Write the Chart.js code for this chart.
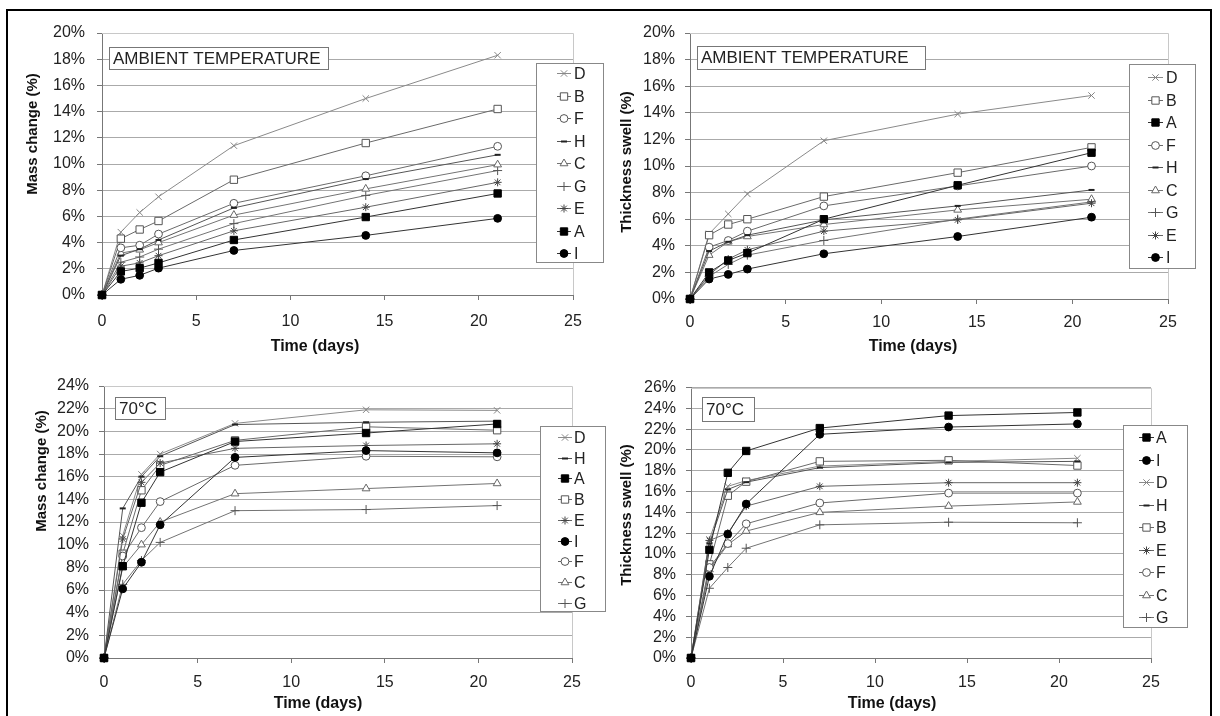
<!DOCTYPE html>
<html>
<head>
<meta charset="utf-8">
<script src="https://cdn.jsdelivr.net/npm/chart.js@4.4.1/dist/chart.umd.min.js"></script>
<style>
  body { margin: 0; background: #fff; }
  #wrap { position: relative; width: 1220px; height: 716px; overflow: hidden; background: #fff; }
  #frame { position: absolute; left: 6px; top: 9px; width: 1206px; height: 720px; border: 2px solid #000; box-sizing: border-box; }
  canvas { position: absolute; }
</style>
</head>
<body>
<div id="wrap">
  <div id="frame"></div>
  <canvas id="massAmb" width="610" height="362" style="left:0;top:0"></canvas>
  <canvas id="swellAmb" width="610" height="362" style="left:610px;top:0"></canvas>
  <canvas id="mass70" width="610" height="354" style="left:0;top:362px"></canvas>
  <canvas id="swell70" width="610" height="354" style="left:610px;top:362px"></canvas>
</div>
<script>
const days = [0, 1, 2, 3, 7, 14, 21];

// mass change (%), ambient temperature
const massAmbOrder = ['D', 'B', 'F', 'H', 'C', 'G', 'E', 'A', 'I'];
const massAmbD = [0, 4.8, 6.3, 7.5, 11.4, 15.0, 18.3];
const massAmbB = [0, 4.3, 5.0, 5.65, 8.8, 11.6, 14.2];
const massAmbF = [0, 3.6, 3.8, 4.65, 7.0, 9.1, 11.35];
const massAmbH = [0, 3.0, 3.5, 4.2, 6.65, 8.85, 10.7];
const massAmbC = [0, 3.2, 3.45, 4.0, 6.1, 8.1, 9.95];
const massAmbG = [0, 2.5, 2.9, 3.5, 5.45, 7.6, 9.5];
const massAmbE = [0, 2.2, 2.45, 3.0, 4.9, 6.7, 8.6];
const massAmbA = [0, 1.8, 2.05, 2.45, 4.2, 5.95, 7.75];
const massAmbI = [0, 1.2, 1.5, 2.05, 3.4, 4.55, 5.85];

// thickness swell (%), ambient temperature
const swellAmbOrder = ['D', 'B', 'A', 'F', 'H', 'C', 'G', 'E', 'I'];
const swellAmbD = [0, 4.9, 6.4, 7.9, 11.9, 13.9, 15.3];
const swellAmbB = [0, 4.8, 5.6, 6.0, 7.7, 9.5, 11.4];
const swellAmbA = [0, 2.0, 2.9, 3.45, 6.0, 8.55, 11.0];
const swellAmbF = [0, 3.9, 4.4, 5.1, 7.0, 8.5, 10.0];
const swellAmbH = [0, 3.6, 4.3, 4.8, 5.95, 7.0, 8.2];
const swellAmbC = [0, 3.3, 4.3, 4.7, 5.6, 6.7, 7.5];
const swellAmbG = [0, 1.7, 2.6, 3.3, 4.4, 6.0, 7.3];
const swellAmbE = [0, 1.8, 3.0, 3.7, 5.1, 5.95, 7.2];
const swellAmbI = [0, 1.5, 1.85, 2.25, 3.4, 4.7, 6.15];

// mass change (%), 70°C
const mass70Order = ['D', 'H', 'A', 'B', 'E', 'I', 'F', 'C', 'G'];
const mass70D = [0, 10.8, 16.2, 18.0, 20.7, 21.9, 21.85];
const mass70H = [0, 13.2, 16.0, 17.8, 20.6, 20.8, 20.9];
const mass70A = [0, 8.1, 13.7, 16.4, 19.1, 19.85, 20.65];
const mass70B = [0, 9.2, 14.8, 17.0, 19.2, 20.4, 20.1];
const mass70E = [0, 10.5, 15.5, 17.2, 18.5, 18.75, 18.9];
const mass70I = [0, 6.1, 8.45, 11.75, 17.7, 18.3, 18.1];
const mass70F = [0, 9.0, 11.5, 13.8, 17.0, 17.8, 17.75];
const mass70C = [0, 8.0, 10.0, 12.0, 14.5, 14.95, 15.4];
const mass70G = [0, 6.5, 8.6, 10.2, 13.0, 13.1, 13.45];

// thickness swell (%), 70°C
const swell70Order = ['A', 'I', 'D', 'H', 'B', 'E', 'F', 'C', 'G'];
const swell70A = [0, 10.4, 17.8, 19.9, 22.1, 23.3, 23.6];
const swell70I = [0, 7.85, 11.9, 14.8, 21.5, 22.2, 22.5];
const swell70D = [0, 11.4, 16.5, 17.05, 18.45, 18.9, 19.2];
const swell70H = [0, 11.0, 16.2, 16.9, 18.3, 18.8, 18.9];
const swell70B = [0, 9.0, 15.6, 16.95, 18.9, 19.0, 18.5];
const swell70E = [0, 11.3, 12.0, 14.6, 16.5, 16.85, 16.85];
const swell70F = [0, 8.7, 11.0, 12.9, 14.9, 15.85, 15.85];
const swell70C = [0, 8.5, 10.9, 12.2, 14.0, 14.6, 15.0];
const swell70G = [0, 6.7, 8.7, 10.55, 12.8, 13.05, 13.0];

const FONT = '"Liberation Sans", Arial, sans-serif';
Chart.defaults.font.family = FONT;
Chart.defaults.color = '#222';

// marker look per board type (draw: lower is on top)
const looks = {
    D: { pointStyle: 'crossRot', line: '#8a8a8a', stroke: '#858585', fill: '#858585', r: 4.5, bw: 1, draw: 5 },
    B: { pointStyle: 'rect', line: '#6a6a6a', stroke: '#555', fill: '#fff', r: 5.2, bw: 1, draw: 4 },
    F: { pointStyle: 'circle', line: '#6a6a6a', stroke: '#555', fill: '#fff', r: 3.9, bw: 1, draw: 3 },
    H: { pointStyle: 'line', line: '#555', stroke: '#222', fill: '#222', r: 3, bw: 2, draw: 2 },
    C: { pointStyle: 'triangle', line: '#737373', stroke: '#666', fill: '#fff', r: 4.5, bw: 1, draw: 3 },
    G: { pointStyle: 'cross', line: '#737373', stroke: '#555', fill: '#555', r: 4.5, bw: 1, draw: 3 },
    E: { pointStyle: 'star', line: '#666', stroke: '#444', fill: '#444', r: 4, bw: 1, draw: 2 },
    A: { pointStyle: 'rect', line: '#333', stroke: '#000', fill: '#000', r: 5.2, bw: 1, draw: 0 },
    I: { pointStyle: 'circle', line: '#333', stroke: '#000', fill: '#000', r: 3.9, bw: 1, draw: 1 }
};

function makeSet(label, values) {
    const s = looks[label];
    return {
        label: label,
        data: days.map((d, i) => ({ x: d, y: values[i] })),
        order: s.draw,
        clip: false,
        borderColor: s.line,
        borderWidth: 1,
        pointStyle: s.pointStyle,
        pointRadius: s.r,
        pointBackgroundColor: s.fill,
        pointBorderColor: s.stroke,
        pointBorderWidth: s.bw,
        tension: 0
    };
}

// plot frame, tag box, boxed legend and axis titles
const decor = {
    id: 'decor',
    beforeDatasetsDraw(chart) {
        const { ctx, chartArea: a } = chart;
        ctx.save();
        ctx.strokeStyle = '#c8c8c8';
        ctx.lineWidth = 1;
        ctx.beginPath();
        ctx.moveTo(a.left, Math.round(a.top) + 0.5);
        ctx.lineTo(Math.round(a.right) + 0.5, Math.round(a.top) + 0.5);
        ctx.lineTo(Math.round(a.right) + 0.5, a.bottom);
        ctx.stroke();
        ctx.restore();
    },
    afterDraw(chart, args, opts) {
        const ctx = chart.ctx;
        ctx.save();

        const t = opts.tag;
        ctx.fillStyle = '#fff';
        ctx.fillRect(t.x, t.y, t.w, t.h);
        ctx.strokeStyle = '#777';
        ctx.lineWidth = 1;
        ctx.strokeRect(t.x + 0.5, t.y + 0.5, t.w, t.h);
        ctx.fillStyle = '#222';
        ctx.font = '17px ' + FONT;
        ctx.textAlign = 'left';
        ctx.textBaseline = 'middle';
        ctx.fillText(t.text, t.x + 4, t.y + t.h / 2 + 1);

        const lg = opts.legend;
        ctx.fillStyle = '#fff';
        ctx.fillRect(lg.x, lg.y, lg.w, lg.h);
        ctx.strokeStyle = '#888';
        ctx.strokeRect(lg.x + 0.5, lg.y + 0.5, lg.w, lg.h);
        ctx.font = '16px ' + FONT;
        chart.data.datasets.forEach((ds, i) => {
            const y = Math.round(lg.y + lg.first + i * lg.step) + 0.5;
            const x0 = lg.x + lg.line0, x1 = lg.x + lg.line1;
            ctx.strokeStyle = ds.borderColor;
            ctx.lineWidth = 1;
            ctx.beginPath();
            ctx.moveTo(x0, y);
            ctx.lineTo(x1, y);
            ctx.stroke();
            ctx.fillStyle = ds.pointBackgroundColor;
            ctx.strokeStyle = ds.pointBorderColor;
            ctx.lineWidth = ds.pointBorderWidth;
            Chart.helpers.drawPoint(ctx, {
                pointStyle: ds.pointStyle,
                radius: ds.pointRadius,
                rotation: 0,
                borderWidth: ds.pointBorderWidth
            }, (x0 + x1) / 2, y);
            ctx.fillStyle = '#222';
            ctx.fillText(ds.label, lg.x + lg.text, y + 1);
        });

        ctx.fillStyle = '#111';
        ctx.textAlign = 'center';
        ctx.font = 'bold 16px ' + FONT;
        ctx.fillText('Time (days)', opts.xTitle.x, opts.xTitle.y);
        ctx.translate(opts.yTitle.x, opts.yTitle.y);
        ctx.rotate(-Math.PI / 2);
        ctx.font = 'bold 15px ' + FONT;
        ctx.fillText(opts.yTitle.text, 0, 0);
        ctx.restore();
    }
};

function makeChart(id, order, series, p) {
    const datasets = order.map(k => makeSet(k, series[k]));
    return new Chart(document.getElementById(id), {
        type: 'line',
        data: { datasets: datasets },
        plugins: [decor],
        options: {
            responsive: false,
            animation: false,
            devicePixelRatio: 1,
            events: [],
            layout: { padding: { left: 0, top: p.top, right: p.right, bottom: 0 } },
            scales: {
                x: {
                    type: 'linear',
                    min: 0,
                    max: 25,
                    afterFit: (scale) => { scale.height = p.xHeight; },
                    border: { display: true, color: '#777', width: 1 },
                    grid: { display: true, drawOnChartArea: false, drawTicks: true, tickLength: 5, color: '#777' },
                    ticks: { stepSize: 5, padding: p.xPad, maxRotation: 0, font: { size: 16 }, color: '#222' }
                },
                y: {
                    min: 0,
                    max: p.yMax,
                    afterFit: (scale) => { scale.width = p.yWidth; },
                    border: { display: true, color: '#777', width: 1 },
                    grid: { color: '#aaa', tickColor: '#777', tickLength: 5, drawTicks: true },
                    ticks: {
                        stepSize: 2,
                        autoSkip: false,
                        padding: p.yPad,
                        font: { size: 16 },
                        color: '#222',
                        callback: (v) => v + '%'
                    }
                }
            },
            plugins: {
                legend: { display: false },
                tooltip: { enabled: false },
                decor: p.decor
            }
        }
    });
}

makeChart('massAmb', massAmbOrder, {
    D: massAmbD, B: massAmbB, F: massAmbF, H: massAmbH, C: massAmbC,
    G: massAmbG, E: massAmbE, A: massAmbA, I: massAmbI
}, {
    top: 33, right: 37, xHeight: 67, yWidth: 102, xPad: 12, yPad: 12, yMax: 20,
    decor: {
        tag: { text: 'AMBIENT TEMPERATURE', x: 109, y: 47, w: 219, h: 22 },
        legend: { x: 536, y: 63, w: 67, h: 199, first: 10, step: 22.5, line0: 21, line1: 35, text: 38 },
        xTitle: { x: 315, y: 347 },
        yTitle: { text: 'Mass change (%)', x: 33, y: 134 }
    }
});

makeChart('swellAmb', swellAmbOrder, {
    D: swellAmbD, B: swellAmbB, A: swellAmbA, F: swellAmbF, H: swellAmbH,
    C: swellAmbC, G: swellAmbG, E: swellAmbE, I: swellAmbI
}, {
    top: 33, right: 52, xHeight: 63, yWidth: 80, xPad: 9, yPad: 10, yMax: 20,
    decor: {
        tag: { text: 'AMBIENT TEMPERATURE', x: 87, y: 46, w: 228, h: 23 },
        legend: { x: 519, y: 64, w: 66, h: 204, first: 13, step: 22.5, line0: 19, line1: 34, text: 37 },
        xTitle: { x: 303, y: 347 },
        yTitle: { text: 'Thickness swell (%)', x: 17, y: 162 }
    }
});

makeChart('mass70', mass70Order, {
    D: mass70D, H: mass70H, A: mass70A, B: mass70B, E: mass70E,
    I: mass70I, F: mass70F, C: mass70C, G: mass70G
}, {
    top: 24, right: 38, xHeight: 58, yWidth: 104, xPad: 10, yPad: 10, yMax: 24,
    decor: {
        tag: { text: '70°C', x: 115, y: 35, w: 50, h: 22 },
        legend: { x: 540, y: 64, w: 65, h: 185, first: 11, step: 20.7, line0: 18, line1: 32, text: 34 },
        xTitle: { x: 318, y: 342 },
        yTitle: { text: 'Mass change (%)', x: 42, y: 109 }
    }
});

makeChart('swell70', swell70Order, {
    A: swell70A, I: swell70I, D: swell70D, H: swell70H, B: swell70B,
    E: swell70E, F: swell70F, C: swell70C, G: swell70G
}, {
    top: 25.5, right: 69, xHeight: 58, yWidth: 81, xPad: 10, yPad: 10, yMax: 26,
    decor: {
        tag: { text: '70°C', x: 92, y: 35, w: 52, h: 24 },
        legend: { x: 513, y: 63, w: 64, h: 202, first: 12, step: 22.5, line0: 16, line1: 31, text: 33 },
        xTitle: { x: 282, y: 342 },
        yTitle: { text: 'Thickness swell (%)', x: 17, y: 153 }
    }
});
</script>
</body>
</html>
